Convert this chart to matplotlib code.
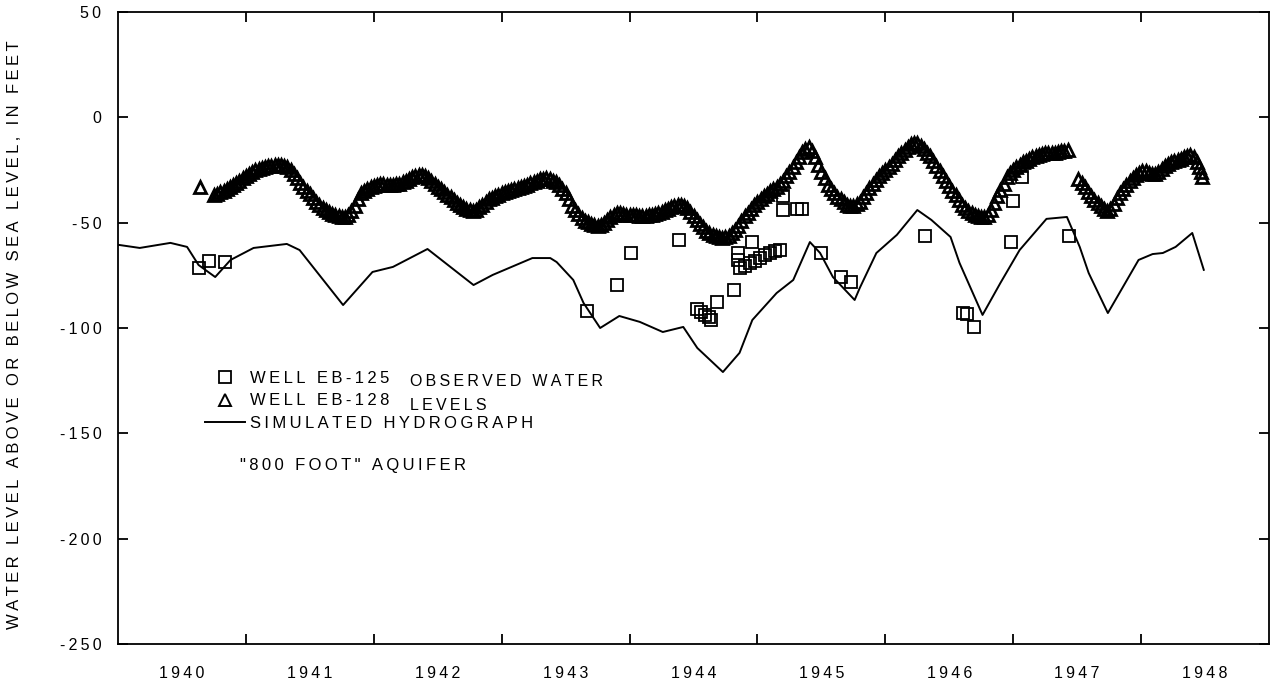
import matplotlib
matplotlib.use('Agg')
import matplotlib.pyplot as plt

plt.rcParams['font.family'] = ['Liberation Sans', 'DejaVu Sans']
plt.rcParams['axes.unicode_minus'] = False

# simulated hydrograph, "800 foot" aquifer
sim_year = [1940.00, 1940.17, 1940.41, 1940.54, 1940.63, 1940.76, 1940.88, 1941.06,
            1941.32, 1941.42, 1941.76, 1941.99, 1942.15, 1942.42, 1942.78, 1942.93,
            1943.24, 1943.38, 1943.43, 1943.56, 1943.64, 1943.77, 1943.92, 1944.08,
            1944.26, 1944.42, 1944.53, 1944.73, 1944.86, 1944.96, 1945.15, 1945.28,
            1945.41, 1945.49, 1945.59, 1945.76, 1945.80, 1945.93, 1946.09, 1946.25,
            1946.36, 1946.51, 1946.58, 1946.76, 1946.90, 1947.05, 1947.26, 1947.42,
            1947.52, 1947.59, 1947.74, 1947.98, 1948.09, 1948.17, 1948.27, 1948.40,
            1948.49]
sim_level = [-60.5, -62.0, -59.6, -61.5, -70.1, -75.8, -67.7, -62.0,
             -60.1, -63.0, -89.1, -73.4, -71.0, -62.5, -79.6, -74.8,
             -66.8, -66.8, -68.7, -77.2, -88.1, -100.0, -94.3, -97.1,
             -101.9, -99.5, -109.5, -120.9, -111.8, -96.2, -83.4, -77.2,
             -59.2, -64.4, -75.8, -86.7, -81.0, -64.4, -55.8, -44.0,
             -48.7, -56.8, -69.1, -93.8, -78.6, -63.0, -48.2, -47.3,
             -61.5, -73.9, -92.9, -67.7, -64.9, -64.4, -61.5, -54.9,
             -72.4]

# well EB-128, first record (recorder readings)
eb128_year_a = [
    1940.640,
    1940.750, 1940.775, 1940.800, 1940.825, 1940.850, 1940.875, 1940.900, 1940.925, 1940.950, 1940.975,
    1941.000, 1941.025, 1941.050, 1941.075, 1941.100, 1941.125, 1941.150, 1941.175, 1941.200, 1941.225,
    1941.250, 1941.275, 1941.300, 1941.325, 1941.350, 1941.375, 1941.400, 1941.425, 1941.450, 1941.475,
    1941.500, 1941.525, 1941.550, 1941.575, 1941.600, 1941.625, 1941.650, 1941.675, 1941.700, 1941.725,
    1941.750, 1941.775, 1941.800, 1941.825, 1941.850, 1941.875, 1941.900, 1941.925, 1941.950, 1941.975,
    1942.000, 1942.025, 1942.050, 1942.075, 1942.100, 1942.125, 1942.150, 1942.175, 1942.200, 1942.225,
    1942.250, 1942.275, 1942.300, 1942.325, 1942.350, 1942.375, 1942.400, 1942.425, 1942.450, 1942.475,
    1942.500, 1942.525, 1942.550, 1942.575, 1942.600, 1942.625, 1942.650, 1942.675, 1942.700, 1942.725,
    1942.750, 1942.775, 1942.800, 1942.825, 1942.850, 1942.875, 1942.900, 1942.925, 1942.950, 1942.975,
    1943.000, 1943.025, 1943.050, 1943.075, 1943.100, 1943.125, 1943.150, 1943.175, 1943.200, 1943.225,
    1943.250, 1943.275, 1943.300, 1943.325, 1943.350, 1943.375, 1943.400, 1943.425, 1943.450, 1943.475,
    1943.500, 1943.525, 1943.550, 1943.575, 1943.600, 1943.625, 1943.650, 1943.675, 1943.700, 1943.725,
    1943.750, 1943.775, 1943.800, 1943.825, 1943.850, 1943.875, 1943.900, 1943.925, 1943.950, 1943.975,
    1944.000, 1944.025, 1944.050, 1944.075, 1944.100, 1944.125, 1944.150, 1944.175, 1944.200, 1944.225,
    1944.250, 1944.275, 1944.300, 1944.325, 1944.350, 1944.375, 1944.400, 1944.425, 1944.450, 1944.475,
    1944.500, 1944.525, 1944.550, 1944.575, 1944.600, 1944.625, 1944.650, 1944.675, 1944.700, 1944.725,
    1944.750, 1944.775, 1944.800, 1944.825, 1944.850, 1944.875, 1944.900, 1944.925, 1944.950, 1944.975,
    1945.000, 1945.025, 1945.050, 1945.075, 1945.100, 1945.125, 1945.150, 1945.175, 1945.200, 1945.225,
    1945.250, 1945.275, 1945.300, 1945.325, 1945.350, 1945.375, 1945.400, 1945.425, 1945.450, 1945.475,
    1945.500, 1945.525, 1945.550, 1945.575, 1945.600, 1945.625, 1945.650, 1945.675, 1945.700, 1945.725,
    1945.750, 1945.775, 1945.800, 1945.825, 1945.850, 1945.875, 1945.900, 1945.925, 1945.950, 1945.975,
    1946.000, 1946.025, 1946.050, 1946.075, 1946.100, 1946.125, 1946.150, 1946.175, 1946.200, 1946.225,
    1946.250, 1946.275, 1946.300, 1946.325, 1946.350, 1946.375, 1946.400, 1946.425, 1946.450, 1946.475,
    1946.500, 1946.525, 1946.550, 1946.575, 1946.600, 1946.625, 1946.650, 1946.675, 1946.700, 1946.725,
    1946.750, 1946.775, 1946.800, 1946.825, 1946.850, 1946.875, 1946.900, 1946.925, 1946.950, 1946.975,
    1947.000, 1947.025, 1947.050, 1947.075, 1947.100, 1947.125, 1947.150, 1947.175, 1947.200, 1947.225,
    1947.250, 1947.275, 1947.300, 1947.325, 1947.350, 1947.375, 1947.400, 1947.425]
eb128_level_a = [
    -33.0,
    -37.0, -36.2, -35.5, -34.8, -34.0, -33.0, -32.0, -31.0, -30.0, -29.0,
    -28.0, -27.0, -26.0, -25.2, -24.5, -24.0, -23.5, -23.2, -23.0, -22.8,
    -22.5, -22.6, -23.0, -23.8, -25.0, -27.0, -29.0, -31.0, -33.0, -34.8,
    -36.5, -38.2, -40.0, -41.5, -43.0, -44.0, -45.0, -45.8, -46.5, -47.0,
    -47.5, -47.3, -46.5, -44.5, -42.0, -39.0, -36.0, -35.0, -34.0, -33.2,
    -32.5, -32.0, -31.5, -31.8, -32.0, -32.0, -32.0, -31.8, -31.5, -30.8,
    -30.0, -29.2, -28.5, -28.0, -27.5, -27.6, -28.0, -28.8, -30.0, -31.5,
    -33.0, -34.2, -35.5, -36.8, -38.0, -39.2, -40.5, -41.5, -42.5, -43.3,
    -44.0, -44.3, -44.0, -42.8, -41.5, -40.2, -39.0, -38.2, -37.5, -36.8,
    -36.0, -35.5, -35.0, -34.5, -34.0, -33.5, -33.0, -32.5, -32.0, -31.2,
    -30.5, -30.0, -29.5, -29.2, -29.0, -29.4, -30.0, -30.8, -32.0, -33.8,
    -36.0, -39.0, -42.0, -44.0, -46.0, -47.6, -49.0, -49.8, -50.5, -51.0,
    -51.5, -51.0, -50.0, -48.8, -47.5, -46.4, -45.5, -45.6, -46.0, -46.2,
    -46.5, -46.5, -46.5, -46.8, -47.0, -46.8, -46.5, -46.2, -46.0, -45.5,
    -45.0, -44.2, -43.5, -42.8, -42.0, -41.6, -41.5, -42.0, -43.0, -45.0,
    -47.0, -48.8, -50.5, -52.2, -54.0, -55.0, -56.0, -56.5, -57.0, -57.2,
    -57.0, -56.2, -55.0, -53.4, -51.5, -49.2, -47.0, -45.2, -43.5, -41.8,
    -40.0, -38.8, -37.5, -36.2, -35.0, -34.0, -33.0, -31.6, -30.0, -28.0,
    -26.0, -23.5, -21.0, -18.6, -16.5, -15.0, -14.0, -16.0, -19.0, -22.5,
    -26.0, -29.0, -32.0, -34.2, -36.0, -37.6, -39.0, -40.4, -41.5, -42.0,
    -42.0, -41.2, -40.0, -38.0, -36.0, -33.6, -31.5, -29.6, -28.0, -26.5,
    -25.0, -23.5, -22.0, -20.2, -18.5, -17.0, -15.5, -14.0, -12.5, -12.0,
    -12.0, -13.4, -15.0, -16.8, -18.5, -20.6, -23.0, -25.5, -28.0, -30.2,
    -32.5, -34.8, -37.0, -39.2, -41.5, -43.0, -44.5, -45.6, -46.5, -47.0,
    -47.5, -47.3, -46.5, -43.8, -40.5, -37.5, -34.5, -31.5, -28.5, -26.6,
    -25.0, -23.6, -22.5, -21.4, -20.5, -19.8, -19.0, -18.5, -18.0, -17.5,
    -17.0, -17.0, -17.0, -16.8, -16.5, -16.2, -16.0, -15.5]

# well EB-128, second record
eb128_year_b = [1947.510, 1947.535, 1947.560, 1947.585, 1947.610, 1947.635, 1947.660, 1947.685,
                1947.710, 1947.735, 1947.760, 1947.785, 1947.810, 1947.835, 1947.860, 1947.885,
                1947.910, 1947.935, 1947.960, 1947.985, 1948.010, 1948.035, 1948.060, 1948.085,
                1948.110, 1948.135, 1948.160, 1948.185, 1948.210, 1948.235, 1948.260, 1948.285,
                1948.310, 1948.335, 1948.360, 1948.385, 1948.410, 1948.435, 1948.455, 1948.470,
                1948.480]
eb128_level_b = [-29.5, -31.0, -33.2, -35.5, -37.5, -39.2, -40.8, -42.2,
                 -43.5, -44.5, -43.5, -41.0, -38.5, -36.0, -34.0, -32.0,
                 -30.4, -29.0, -27.5, -26.2, -25.5, -25.6, -26.2, -26.8,
                 -27.0, -26.0, -24.5, -23.2, -22.0, -21.3, -20.8, -20.3,
                 -19.8, -19.0, -18.3, -18.0, -19.0, -21.0, -23.5, -26.0,
                 -28.5]

# well EB-125 observations
eb125_year = [1940.63, 1940.71, 1940.84, 1943.67, 1943.90, 1944.01, 1944.39,
              1944.53, 1944.56, 1944.59, 1944.62, 1944.64, 1944.68, 1944.82,
              1944.85, 1944.85, 1944.86, 1944.90, 1944.94, 1944.98, 1945.02,
              1945.06, 1945.10, 1945.14, 1945.18, 1944.96, 1945.20, 1945.20,
              1945.31, 1945.35, 1945.50, 1945.65, 1945.73, 1946.31, 1946.61,
              1946.64, 1946.69, 1946.98, 1947.00, 1947.07, 1947.44]
eb125_level = [-71.5, -68.2, -68.7, -91.9, -79.6, -64.4, -58.2,
               -91.0, -92.5, -94.0, -95.0, -96.0, -87.6, -81.9,
               -64.5, -67.5, -71.5, -70.5, -69.1, -68.0, -66.8,
               -65.5, -64.4, -63.5, -63.0, -59.2, -44.0, -37.5,
               -43.5, -43.5, -64.4, -75.8, -78.2, -56.3, -92.9,
               -93.3, -99.5, -59.2, -39.7, -28.3, -56.3]

year_bounds = [1941, 1942, 1943, 1944, 1945, 1946, 1947, 1948]
year_mid = [1940.5, 1941.5, 1942.5, 1943.5, 1944.5, 1945.5, 1946.5, 1947.5, 1948.5]
year_labels = ['1940', '1941', '1942', '1943', '1944', '1945', '1946', '1947', '1948']
level_ticks = [50, 0, -50, -100, -150, -200, -250]


def spaced(s):
    # the original lettering is widely tracked
    return '\u2009'.join(s)


fig = plt.figure(figsize=(12.76, 6.83), dpi=100)
ax = fig.add_axes([118 / 1276, 39 / 683, 1151 / 1276, 632 / 683])

line, = ax.plot(sim_year, sim_level, color='black', lw=1.4)
tri_style = dict(ls='none', marker='^', ms=8.5, mfc='none', mec='black', mew=2.0)
ax.plot(eb128_year_a, eb128_level_a, **tri_style)
ax.plot(eb128_year_b, eb128_level_b, **tri_style)
sq, = ax.plot(eb125_year, eb125_level, ls='none', marker='s', ms=8,
              mfc='none', mec='black', mew=1.3)

# legend key for the triangles at the normal weight
tri = plt.Line2D([], [], ls='none', marker='^', ms=8, mfc='none', mec='black', mew=1.4)

ax.set_xlim(1940, 1949)
ax.set_ylim(-250, 50)

ax.set_xticks(year_bounds)
ax.set_xticklabels([])
ax.set_xticks(year_mid, minor=True)
ax.set_xticklabels([spaced(t) for t in year_labels], minor=True, fontsize=11.5)
ax.set_yticks(level_ticks)
ax.set_yticklabels([spaced(str(v)) for v in level_ticks], fontsize=11.5)

ax.tick_params(which='major', direction='in', length=7, width=1.3,
               top=True, right=True, pad=12)
ax.tick_params(which='minor', length=0, pad=16)
for s in ax.spines.values():
    s.set_linewidth(1.3)

ax.set_ylabel(spaced('WATER LEVEL ABOVE OR BELOW SEA LEVEL, IN FEET'), fontsize=12)
ax.yaxis.set_label_coords(-0.083, 0.49)

leg = ax.legend([sq, tri, line],
                [spaced('WELL EB-125'), spaced('WELL EB-128'),
                 spaced('SIMULATED HYDROGRAPH')],
                loc='upper left', bbox_to_anchor=(0.0756, 0.432), frameon=False,
                fontsize=12, handlelength=2.4, handletextpad=0.3,
                labelspacing=0.45, borderpad=0, borderaxespad=0)

ax.text(0.106, 0.283, spaced('"800 FOOT" AQUIFER'), transform=ax.transAxes,
        fontsize=12, va='center', ha='left')
ax.text(0.2537, 0.416, spaced('OBSERVED WATER'), transform=ax.transAxes,
        fontsize=11.5, va='center', ha='left')
ax.text(0.2537, 0.3766, spaced('LEVELS'), transform=ax.transAxes,
        fontsize=11.5, va='center', ha='left')

fig.savefig('out.png', dpi=100)
